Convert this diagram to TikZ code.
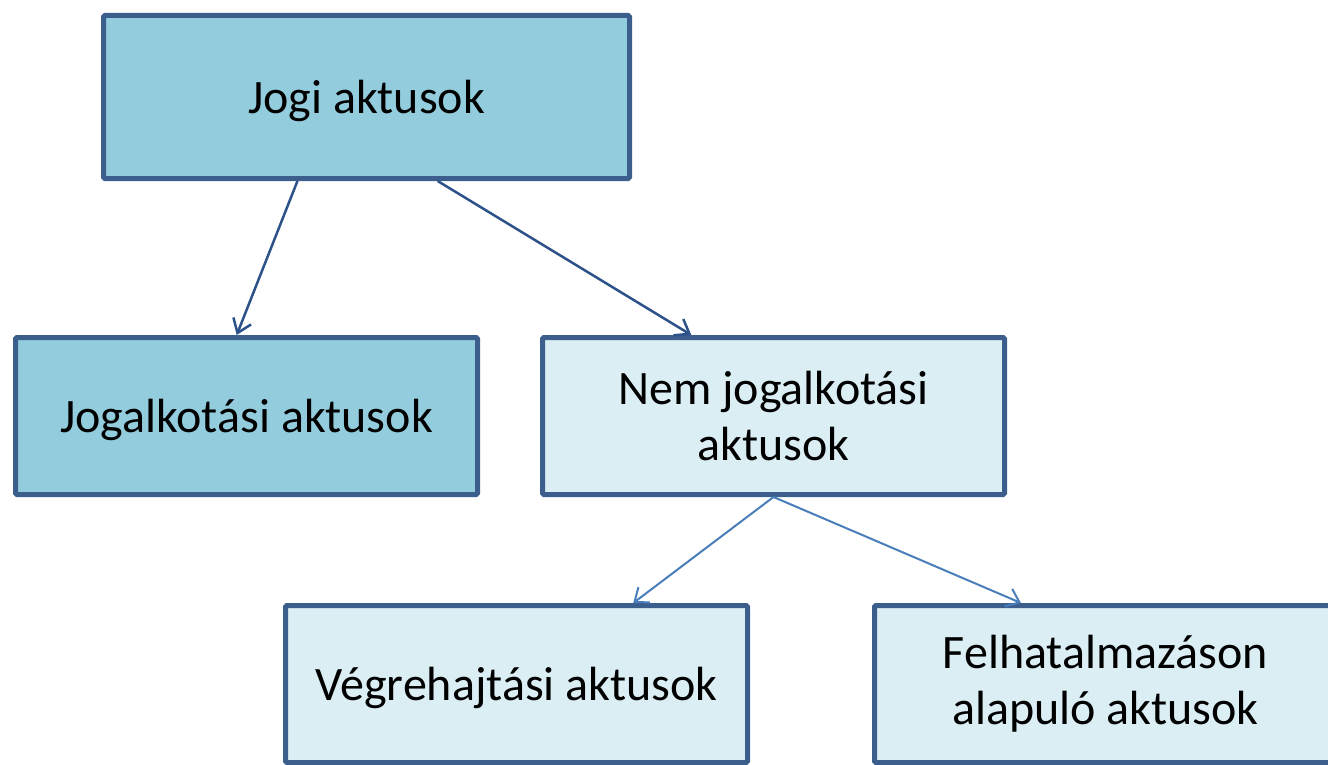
\documentclass[tikz,border=0pt]{standalone}
\usepackage{fontspec}
\setmainfont{Carlito}
\usetikzlibrary{arrows.meta,calc}
\definecolor{keret}{HTML}{3B5E8C}
\definecolor{sotet}{HTML}{93CDDD}
\definecolor{vilagos}{HTML}{DBEEF4}
\definecolor{nyil}{HTML}{2C5289}
\definecolor{nyilvil}{HTML}{4A7EBB}
\begin{document}
\begin{tikzpicture}[x=1pt,y=-1pt,
  doboz/.style={draw=keret, line width=5pt, rounded corners=1.5pt, align=center,
    minimum width=462pt, minimum height=157pt, inner sep=0pt,
    font=\fontsize{48}{56}\selectfont},
  egysor/.style={text depth=0pt},
  nyil1/.style={draw=nyil, line width=2.5pt, -{Straight Barb[length=13pt,width=19pt,line width=2.5pt]}},
  nyil2/.style={draw=nyilvil, line width=2pt, -{Straight Barb[length=12pt,width=19pt,line width=2pt]}}]
  \useasboundingbox (0,0) rectangle (1328,765);

  % dobozok
  \node[doboz, egysor, fill=sotet, minimum width=526pt, minimum height=163pt] (jogi) at (366.5,97) {Jogi aktusok};
  \node[doboz, egysor, fill=sotet] (jogalk) at (246.5,416) {Jogalkotási aktusok};
  \node[doboz, fill=vilagos] (nem) at (773.5,416) {Nem jogalkotási\\aktusok};
  \node[doboz, egysor, fill=vilagos] (vegre) at (516.5,684) {Végrehajtási aktusok};
  \node[doboz, fill=vilagos] (felh) at (1105.5,684) {Felhatalmazáson\\alapuló aktusok};

  % nyilak
  \draw[nyil1] ($(jogi.south west)!0.37!(jogi.south east)$) -- ($(jogalk.north west)!0.479!(jogalk.north east)$);
  \draw[nyil1] ($(jogi.south west)!0.634!(jogi.south east)$) -- ($(nem.north west)!0.324!(nem.north east)$);
  \draw[nyil2] (nem.south) -- ($(vegre.north west)!0.75!(vegre.north east)$);
  \draw[nyil2] (nem.south) -- ($(felh.north west)!0.319!(felh.north east)$);
\end{tikzpicture}
\end{document}
